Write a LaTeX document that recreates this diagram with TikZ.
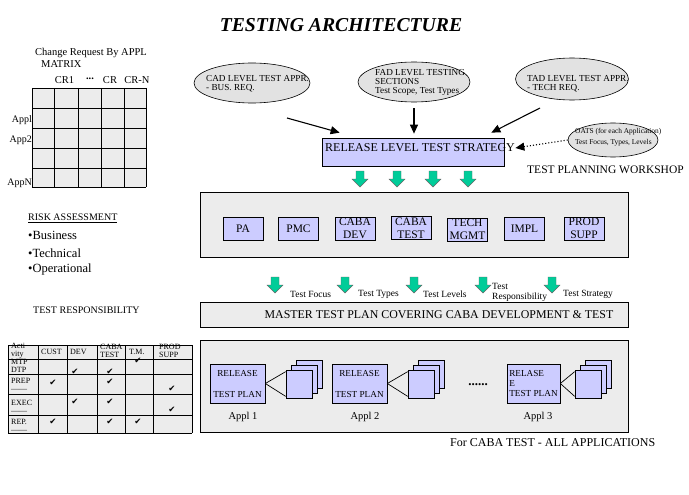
\documentclass[tikz,border=0pt]{standalone}
\usepackage{fontspec}
\setmainfont{Liberation Serif}
\newfontfamily\symf{DejaVu Sans}
\usetikzlibrary{arrows.meta,shapes.geometric}
\definecolor{lav}{RGB}{204,204,255}
\definecolor{lgray}{RGB}{236,236,236}
\definecolor{egray}{RGB}{226,226,226}
\definecolor{grn}{RGB}{0,204,153}
\newcommand\fsz[2]{\fontsize{#1}{#2}\selectfont}
\newcommand\ck{{\symf\fsz{8.5}{9}✔}}
\begin{document}
\begin{tikzpicture}[x=1pt,y=-1pt,
  every node/.style={inner sep=0pt},
  ell/.style={ellipse,draw,line width=0.6pt,fill=egray},
  etxt/.style={align=left,font=\fsz{9.2}{9},anchor=west},
  arr/.style={line width=1.1pt,-{Triangle[length=9pt,width=8pt]}},
  lbox/.style={draw,line width=0.7pt,fill=lav},
  gbox/.style={draw,line width=0.8pt,fill=lgray},
  ibox/.style={lbox,minimum width=40pt,minimum height=23pt,align=center,font=\fsz{11.5}{13}},
  rbox/.style={lbox,minimum width=55pt,minimum height=39pt,font=\fsz{9.2}{9}},
  sq/.style={lbox,minimum width=26pt,minimum height=28pt},
  gfill/.style={draw=black!60,line width=0.4pt,fill=grn},
  garrow/.pic={\path[gfill] (-4,0) -- (4,0) -- (4,8) -- (8,8) -- (0,16) -- (-8,8) -- (-4,8) -- cycle;},
  small/.style={font=\fsz{9.5}{10}},
  tab/.style={font=\fsz{8}{8},align=left,anchor=west},
  ]
\useasboundingbox[fill=white] (0,0) rectangle (689,495);

% title
\node[font=\fsz{19.7}{21}\bfseries\itshape] (title) at (341,25) {TESTING ARCHITECTURE};

% change request matrix
\node[font=\fsz{10.5}{11},anchor=west] (mt1) at (35,53) {Change Request By APPL};
\node[font=\fsz{10.5}{11},anchor=west] (mt2) at (41,64) {MATRIX};
\node[font=\fsz{10.5}{11}] (cr1) at (64.5,80) {CR1};
\node[font=\fsz{10.5}{11}\bfseries] (crd) at (90,79) {...};
\node[font=\fsz{10.5}{11}] (crx) at (110,80) {CR};
\node[font=\fsz{10.5}{11}] (crn) at (137,80) {CR-N};
\fill[lgray] (32,88) rectangle (146,187);
\foreach \x in {32,54,78,101,124,146} \draw[line width=0.7pt] (\x,88) -- (\x,187);
\foreach \y in {88,108,128,148,168,187} \draw[line width=0.7pt] (32,\y) -- (146,\y);
\node[font=\fsz{10}{10},anchor=east] (ap1) at (32,120) {Appl};
\node[font=\fsz{10}{10},anchor=east] (ap2) at (32,140) {App2};
\node[font=\fsz{10}{10},anchor=east] (apn) at (32,183) {AppN};

% risk assessment
\node[font=\fsz{10}{10},anchor=west] (risk) at (28,218) {\underline{RISK ASSESSMENT}};
\node[font=\fsz{12.5}{13},anchor=west] (rb) at (28,235) {\textbullet Business};
\node[font=\fsz{12.5}{13},anchor=west] (rt) at (28,253) {\textbullet Technical};
\node[font=\fsz{12.5}{13},anchor=west] (ro) at (28,269) {\textbullet Operational};

% test responsibility
\node[font=\fsz{10}{10},anchor=west] (trt) at (33,310) {TEST RESPONSIBILITY};
\fill[lgray] (8,345) rectangle (192,433);
\foreach \x in {8,38,67,97,125,153,192} \draw[line width=0.7pt] (\x,345) -- (\x,433);
\foreach \y in {345,359,374.5,394.5,415,433} \draw[line width=0.7pt] (8,\y) -- (192,\y);
\node[tab] (h0) at (11,351) {Acti\\vity};
\node[tab] (h1) at (41,352) {CUST};
\node[tab] (h2) at (70,352) {DEV};
\node[tab] (h3) at (100,351) {CABA\\TEST};
\node[tab] (h4) at (129,352) {T.M.};
\node[tab] (h5) at (159,351) {PROD\\SUPP};
\node[tab] (r1) at (11,366) {MTP\\DTP};
\node[tab] (r2) at (11,385) {PREP\\------};
\node[tab] (r3) at (11,407) {EXEC\\------};
\node[tab] (r4) at (11,426) {REP.\\------};
\node (c11) at (138,361) {\ck};
\node (c12) at (75,372) {\ck};
\node (c13) at (110,372) {\ck};
\node (c21) at (53,383) {\ck};
\node (c22) at (110,382) {\ck};
\node (c23) at (172,389) {\ck};
\node (c31) at (75,402) {\ck};
\node (c32) at (110,402) {\ck};
\node (c33) at (172,410) {\ck};
\node (c41) at (53,422) {\ck};
\node (c42) at (110,422) {\ck};
\node (c43) at (138,422) {\ck};

% ellipses
\node[ell,minimum width=116pt,minimum height=40pt] (cad) at (252,83) {};
\node[etxt] (cadt) at (206,83.5) {CAD LEVEL TEST APPR.\\- BUS. REQ.};
\node[ell,minimum width=112pt,minimum height=40pt] (fad) at (414,82) {};
\node[etxt] (fadt) at (375,82) {FAD LEVEL TESTING\\SECTIONS\\Test Scope, Test Types};
\node[ell,minimum width=113pt,minimum height=42pt] (tad) at (572,79) {};
\node[etxt] (tadt) at (527,83.5) {TAD LEVEL TEST APPR.\\- TECH REQ.};
\node[ell,minimum width=90pt,minimum height=34pt] (oats) at (613,140) {};
\node[etxt,font=\fsz{7.4}{11}] (oatst) at (575,137.5) {OATS (for each Application)\\Test Focus, Types, Levels};

% strategy
\node[lbox,minimum width=182pt,minimum height=28pt] (strat) at (413,152) {};
\node[font=\fsz{12}{12}] (stratt) at (420,148) {RELEASE LEVEL TEST STRATEGY};
\node[font=\fsz{11.5}{12},anchor=west] (tpw) at (527,170) {TEST PLANNING WORKSHOP};

\draw[arr] ([shift={(35,35)}]cad.center) -- ([shift={(18,-5)}]strat.north west);
\draw[arr] ([shift={(0,6)}]fad.south) -- ([shift={(0,-4)}]fad.south |- strat.north);
\draw[arr] ([shift={(-32,29)}]tad.center) -- ([shift={(-13,-5)}]strat.north east);
\draw[arr,dotted] (oats.west) -- ([shift={(11,-4)}]strat.east);

\foreach \x in {360,397,433,468} \pic at (\x,171) {garrow};

% team box
\node[gbox,minimum width=428pt,minimum height=65pt] (team) at (414,224.5) {};
\node[ibox] (pa) at (243,228.5) {PA};
\node[ibox] (pmc) at (298.5,228.5) {PMC};
\node[ibox] (cdev) at (355,228.5) {CABA\\DEV};
\node[ibox] (ctest) at (411,228) {CABA\\TEST};
\node[ibox] (tech) at (467.5,229.5) {TECH\\MGMT};
\node[ibox] (impl) at (524.5,228.5) {IMPL};
\node[ibox] (prod) at (584,228.5) {PROD\\SUPP};

\foreach \x in {275,345,414,483,552} \pic at (\x,277) {garrow};
\node[small,anchor=west] (lf) at (290,294) {Test Focus};
\node[small,anchor=west] (lt) at (358,294) {Test Types};
\node[small,anchor=west] (ll) at (423,294) {Test Levels};
\node[small,anchor=west,align=left] (lr) at (492,292) {Test\\Responsibility};
\node[small,anchor=west] (ls) at (563,294) {Test Strategy};

% master
\node[gbox,minimum width=428pt,minimum height=25pt] (master) at (414,314.5) {};
\node[font=\fsz{11.9}{12}] (mastert) at (439,314.5) {MASTER TEST PLAN COVERING CABA DEVELOPMENT \& TEST};

% applications
\node[gbox,minimum width=428pt,minimum height=92pt] (apps) at (414,386) {};
\node[rbox,align=center] (rp1) at (237.5,383.5) {RELEASE\\[12pt]TEST PLAN};
\node[rbox,align=center] (rp2) at (359.5,383.5) {RELEASE\\[12pt]TEST PLAN};
\node[rbox,minimum width=53pt,align=left,font=\fsz{9.2}{10}] (rp3) at (533.5,383.5) {RELASE\\E\\TEST PLAN};
\foreach \n/\x in {1/299,2/421,3/588} {
  \node[sq] (s\n c) at (\x+10,374) {};
  \node[sq] (s\n b) at (\x+5,379) {};
  \node[sq] (s\n a) at (\x,384) {};
}
\draw[line width=0.7pt] (rp1.east) -- ([shift={(0,2)}]s1a.north west);
\draw[line width=0.7pt] (rp1.east) -- ([shift={(0,-2)}]s1a.south west);
\draw[line width=0.7pt] (rp2.east) -- ([shift={(0,2)}]s2a.north west);
\draw[line width=0.7pt] (rp2.east) -- ([shift={(0,-2)}]s2a.south west);
\draw[line width=0.7pt] (rp3.east) -- ([shift={(0,2)}]s3a.north west);
\draw[line width=0.7pt] (rp3.east) -- ([shift={(0,-2)}]s3a.south west);
\node[font=\fsz{10.5}{12}] (ap1l) at (243,417) {Appl 1};
\node[font=\fsz{10.5}{12}] (ap2l) at (365,417) {Appl 2};
\node[font=\fsz{10.5}{12}] (ap3l) at (538,417) {Appl 3};
\node[font=\fsz{13}{13}\bfseries] (dots) at (478,385) {......};
\node[font=\fsz{12}{12},anchor=west] (forc) at (450,443) {For CABA TEST - ALL APPLICATIONS};
\end{tikzpicture}
\end{document}
